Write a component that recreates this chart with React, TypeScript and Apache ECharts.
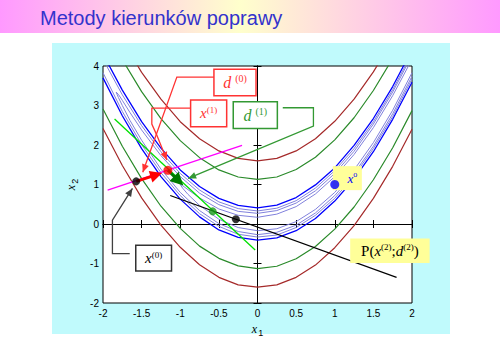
import React, { useEffect, useRef } from 'react';
import * as echarts from 'echarts';

// ---- contour data (x1 grid and x2 values) ----
const X1 = [-2, -1.75, -1.5, -1.25, -1, -0.75, -0.5, -0.25, 0, 0.25, 0.5, 0.75, 1, 1.25, 1.5, 1.75, 2];
const darkRedUpper = [5.58, 4.65, 3.84, 3.16, 2.59, 2.16, 1.85, 1.66, 1.6, 1.66, 1.85, 2.16, 2.6, 3.16, 3.85, 4.66, 5.6];
const darkRedLower = [2.42, 1.48, 0.66, -0.03, -0.59, -1.03, -1.35, -1.54, -1.6, -1.54, -1.35, -1.04, -0.6, -0.04, 0.65, 1.46, 2.4];
const greenUpper = [5.09, 4.16, 3.35, 2.67, 2.11, 1.68, 1.37, 1.19, 1.13, 1.19, 1.38, 1.69, 2.13, 2.69, 3.38, 4.19, 5.13];
const greenLower = [2.91, 1.97, 1.15, 0.45, -0.11, -0.56, -0.87, -1.06, -1.13, -1.07, -0.88, -0.57, -0.13, 0.43, 1.12, 1.93, 2.87];
const blueUpper = [4.3, 3.39, 2.59, 1.92, 1.37, 0.95, 0.65, 0.47, 0.41, 0.48, 0.67, 0.99, 1.42, 1.99, 2.67, 3.48, 4.41];
const blueLower = [3.7, 2.74, 1.91, 1.2, 0.63, 0.18, -0.15, -0.34, -0.41, -0.35, -0.17, 0.14, 0.58, 1.14, 1.83, 2.65, 3.59];
const lightUpper = [4.17, 3.27, 2.49, 1.83, 1.28, 0.86, 0.56, 0.39, 0.33, 0.4, 0.59, 0.91, 1.35, 1.91, 2.59, 3.4, 4.33];
const lightLower = [3.83, 2.85, 2.01, 1.3, 0.72, 0.26, -0.06, -0.26, -0.33, -0.28, -0.09, 0.22, 0.65, 1.22, 1.91, 2.72, 3.67];
const lightLoopA: number[][] = [
  [2, 4.27], [1.75, 3.34], [1.5, 2.53], [1.25, 1.84], [1, 1.28], [0.75, 0.84], [0.5, 0.53], [0.25, 0.34], [0, 0.27],
  [-0.25, 0.32], [-0.5, 0.49], [-0.75, 0.78], [-1, 1.2], [-1.25, 1.73], [-1.5, 2.38], [-1.65, 2.82], [-1.75, 3.13],
  [-1.8, 3.28], [-1.83, 3.34], [-1.8, 3.2], [-1.75, 3.0], [-1.65, 2.62], [-1.5, 2.12], [-1.25, 1.39], [-1, 0.8],
  [-0.75, 0.34], [-0.5, 0.01], [-0.25, -0.19], [0, -0.27], [0.25, -0.21], [0.5, -0.03], [0.75, 0.28], [1, 0.72],
  [1.25, 1.28], [1.5, 1.97], [1.75, 2.79], [2, 3.74],
];
const lightLoopB: number[][] = [
  [2, 4.17], [1.75, 3.25], [1.5, 2.44], [1.25, 1.76], [1, 1.2], [0.75, 0.76], [0.5, 0.44], [0.25, 0.25], [0, 0.17],
  [-0.25, 0.22], [-0.5, 0.38], [-0.75, 0.66], [-0.9, 0.87], [-0.97, 0.97], [-1, 1.0], [-0.97, 0.91], [-0.9, 0.75],
  [-0.75, 0.47], [-0.5, 0.12], [-0.25, -0.09], [0, -0.17], [0.25, -0.12], [0.5, 0.06], [0.75, 0.37], [1, 0.8],
  [1.25, 1.37], [1.5, 2.06], [1.75, 2.88], [2, 3.83],
];

// ---- search lines, points and arrows ----
const magentaLine = [[-1.94, 0.86], [-0.2, 1.99]];
const limeLine = [[-1.85, 2.66], [-0.03, -0.66]];
const blackLine = [[-1.13, 0.72], [1.8, -1.35]];
const pX0 = [-1.57, 1.08];
const pX1 = [-1.16, 1.36];
const pGreen = [-0.58, 0.32];
const pBlack = [-0.28, 0.12];
const pStar = [1, 1];
const redArrowEnd = [-1.31, 1.245];
const greenArrowEnd = [-1.02, 1.09];

// ---- callouts (data coordinates) ----
const calloutD0 = [[-0.564, 3.72], [-1.044, 3.72], [-1.485, 1.31]];
const calloutX1 = [[-0.87, 2.935], [-1.368, 2.935], [-1.368, 2.53], [-1.304, 2.25], [-1.174, 1.62]];
const calloutD1 = [[0.327, 2.943], [0.724, 2.943], [0.724, 2.479], [-0.898, 1.153]];
const calloutX0 = [[-1.654, -0.748], [-1.878, -0.748], [-1.878, 0.096], [-1.619, 0.9]];
const boxD0 = [[-0.564, 3.92], [-0.019, 3.25]];
const boxX1 = [[-0.866, 3.14], [-0.399, 2.46]];
const boxD1 = [[-0.314, 3.095], [0.257, 2.42]];
const boxX0 = [[-1.576, -0.537], [-1.113, -1.189]];
const boxStar = [[0.975, 1.465], [1.351, 0.857]];
const boxP = [[1.2, -0.368], [2.228, -0.986]];

const TITLE = 'Metody kierunków poprawy';
const SERIF = 'Liberation Serif';
const SANS = 'Liberation Sans';

function pairs(ys: number[]) {
  return X1.map((x, i) => [x, ys[i]]);
}

function curve(data: number[][], color: string, width: number) {
  return {
    type: 'line', data, showSymbol: false, symbol: 'none', silent: true, clip: true,
    lineStyle: { color, width }, z: 2,
  };
}

export default function App() {
  const ref = useRef<HTMLDivElement>(null);
  useEffect(() => {
    const chart = echarts.init(ref.current!, null, { renderer: 'svg' });
    const axisCommon = {
      type: 'value',
      splitLine: { show: false },
      axisLine: { show: true, lineStyle: { color: '#000', width: 1 } },
      axisTick: { show: true, inside: true, length: 4, lineStyle: { color: '#000' } },
    };
    const option: any = {
      animation: false,
      backgroundColor: '#ffffff',
      grid: { left: 103, right: 88, top: 66, bottom: 49, show: true, backgroundColor: '#ffffff', borderColor: '#000', borderWidth: 1 },
      xAxis: [
        {
          ...axisCommon, min: -2, max: 2, interval: 0.5, position: 'bottom',
          axisLabel: { fontSize: 10, color: '#000', fontFamily: SANS, margin: 5 },
          name: '{i|x}{s|1}', nameLocation: 'middle', nameGap: 14,
          nameTextStyle: {
            rich: {
              i: { fontStyle: 'italic', fontSize: 12, fontFamily: SERIF, color: '#000' },
              s: { fontSize: 9, fontFamily: SANS, color: '#000', padding: [8, 0, 0, 1] },
            },
          },
        },
        { ...axisCommon, min: -2, max: 2, interval: 0.5, position: 'top', axisLabel: { show: false } },
      ],
      yAxis: [
        {
          ...axisCommon, min: -2, max: 4, interval: 1, position: 'left',
          axisLabel: { fontSize: 10, color: '#000', fontFamily: SANS, margin: 4 },
          name: '{i|x}{s|2}', nameLocation: 'middle', nameGap: 14, nameRotate: 90,
          nameTextStyle: {
            rich: {
              i: { fontStyle: 'italic', fontSize: 12, fontFamily: SERIF, color: '#000' },
              s: { fontSize: 9, fontFamily: SANS, color: '#000', padding: [8, 0, 0, 1] },
            },
          },
        },
        { ...axisCommon, min: -2, max: 4, interval: 1, position: 'right', axisLabel: { show: false } },
      ],
      series: [
        curve(pairs(darkRedUpper), '#a52a2a', 1.2),
        curve(pairs(darkRedLower), '#a52a2a', 1.2),
        curve(pairs(greenUpper), '#2a8a2a', 1.2),
        curve(pairs(greenLower), '#2a8a2a', 1.2),
        curve(pairs(blueUpper), '#0000ff', 1.3),
        curve(pairs(blueLower), '#0000ff', 1.3),
        curve(pairs(lightUpper), '#8080dc', 1),
        curve(pairs(lightLower), '#8080dc', 1),
        curve(lightLoopA, '#8080dc', 1),
        curve(lightLoopB, '#8080dc', 1),
        {
          ...curve(magentaLine, '#ff00ff', 1.3), z: 3,
          markLine: {
            silent: true, animation: false, symbol: ['none', 'triangle'], symbolSize: 12,
            label: { show: false },
            lineStyle: { color: '#ff0000', width: 3, type: 'solid' },
            data: [[{ coord: pX0 }, { coord: redArrowEnd }]],
          },
        },
        {
          ...curve(limeLine, '#00e000', 1.3), z: 3,
          markLine: {
            silent: true, animation: false, symbol: ['none', 'triangle'], symbolSize: 13,
            label: { show: false },
            lineStyle: { color: '#007a00', width: 3, type: 'solid' },
            data: [[{ coord: pX1 }, { coord: greenArrowEnd }]],
          },
        },
        { ...curve(blackLine, '#000000', 1.2), z: 3 },
        {
          type: 'scatter', silent: true, z: 45, symbolSize: 8,
          data: [
            { value: pX0, itemStyle: { color: '#000' } },
            { value: pX1, symbolSize: 9, itemStyle: { color: '#ff0000' } },
            { value: pGreen, itemStyle: { color: '#1a9a1a' } },
            { value: pBlack, itemStyle: { color: '#000' } },
            { value: pStar, symbolSize: 9, itemStyle: { color: '#0000ff' } },
          ],
        },
      ],
    };
    chart.setOption(option);

    const toPx = (p: number[]) => chart.convertToPixel({ gridIndex: 0 }, p) as number[];
    const head = (tip: number[], from: number[], len: number, half: number) => {
      const dx = tip[0] - from[0];
      const dy = tip[1] - from[1];
      const L = Math.hypot(dx, dy) || 1;
      const ux = dx / L;
      const uy = dy / L;
      const bx = tip[0] - ux * len;
      const by = tip[1] - uy * len;
      return [[tip[0], tip[1]], [bx - uy * half, by + ux * half], [bx + uy * half, by - ux * half]];
    };
    const callout = (pts: number[][], color: string) => {
      const px = pts.map(toPx);
      return [
        { type: 'polyline', z: 50, silent: true, shape: { points: px }, style: { stroke: color, lineWidth: 1.3, fill: null } },
        { type: 'polygon', z: 50, silent: true, shape: { points: head(px[px.length - 1], px[px.length - 2], 8, 3.5) }, style: { fill: color } },
      ];
    };
    const box = (b: number[][], stroke: string | null, fill: string) => {
      const a = toPx(b[0]);
      const c = toPx(b[1]);
      return {
        type: 'rect', z: 40, silent: true,
        shape: { x: a[0], y: a[1], width: c[0] - a[0], height: c[1] - a[1] },
        style: { fill, stroke: stroke || undefined, lineWidth: stroke ? 1.5 : 0 },
      };
    };
    const label = (b: number[][], text: string, color: string, size: number, dx = 0) => {
      const a = toPx(b[0]);
      const c = toPx(b[1]);
      return {
        type: 'text', z: 60, silent: true,
        x: (a[0] + c[0]) / 2 + dx, y: (a[1] + c[1]) / 2,
        style: {
          text, fill: color, align: 'center', verticalAlign: 'middle',
          font: `${size}px ${SERIF}`,
          rich: {
            i: { fontStyle: 'italic', fontSize: size, fontFamily: SERIF, fill: color },
            r: { fontSize: size, fontFamily: SERIF, fill: color },
            s: { fontSize: Math.round(size * 0.62), fontFamily: SERIF, fill: color, padding: [0, 0, 7, 0] },
          },
        },
      };
    };
    const gradient = new echarts.graphic.LinearGradient(0, 0, 1, 0, [
      { offset: 0, color: '#ff99ff' },
      { offset: 0.48, color: '#ffffcc' },
      { offset: 1, color: '#ff99ff' },
    ]);
    const elements: any[] = [
      { type: 'rect', z: -10, silent: true, shape: { x: 0, y: 0, width: 500, height: 33 }, style: { fill: gradient } },
      { type: 'rect', z: -10, silent: true, shape: { x: 52, y: 43, width: 398, height: 291 }, style: { fill: '#c0fafc' } },
      {
        type: 'text', z: 10, silent: true, x: 40, y: 18,
        style: { text: TITLE, fill: '#3333cc', font: `20px ${SANS}`, verticalAlign: 'middle', align: 'left' },
      },
      ...callout(calloutD0, '#ff3333'),
      ...callout(calloutX1, '#ff3333'),
      ...callout(calloutD1, '#339933'),
      ...callout(calloutX0, '#404040'),
      box(boxD0, '#ff3333', '#ffffff'),
      box(boxX1, '#ff3333', '#ffffff'),
      box(boxD1, '#339933', '#ffffff'),
      box(boxX0, '#333333', '#ffffff'),
      box(boxStar, null, '#ffff99'),
      box(boxP, null, '#ffff99'),
      label(boxD0, '{i|d} {s|(0)}', '#ff3333', 16),
      label(boxX1, '{i|x}{s|(1)}', '#ff3333', 15),
      label(boxD1, '{i|d} {s|(1)}', '#339933', 16),
      label(boxX0, '{i|x}{s|(0)}', '#000000', 15),
      label(boxStar, '{i|x}{s|o}', '#0000ff', 13, 5),
      label(boxP, '{r|P(}{i|x}{s|(2)}{r|;}{i|d}{s|(2)}{r|)}', '#000000', 15),
    ];
    chart.setOption({ graphic: { elements } });
    return () => chart.dispose();
  }, []);
  return <div ref={ref} style={{ position: 'fixed', left: 0, top: 0, width: 500, height: 352 }} />;
}
